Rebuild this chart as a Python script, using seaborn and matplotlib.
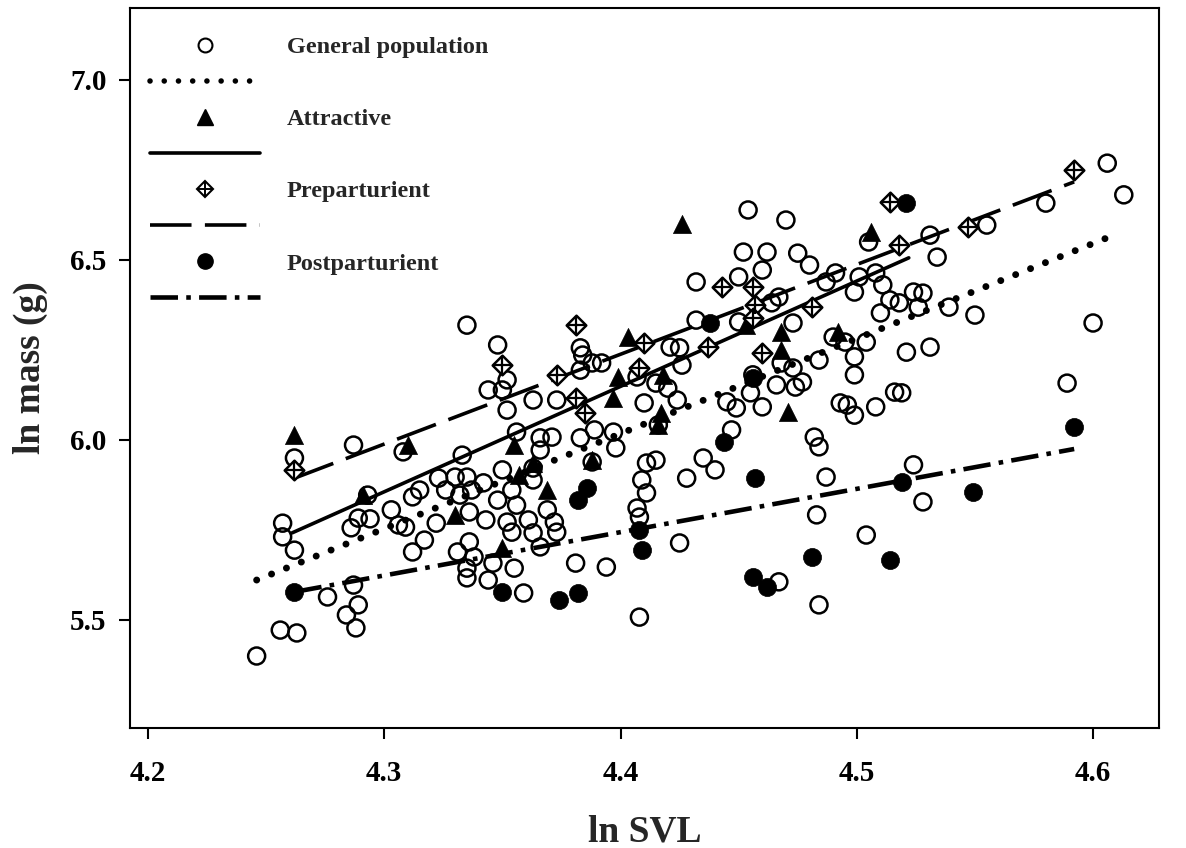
import matplotlib
matplotlib.use("Agg")
import matplotlib.pyplot as plt
import seaborn as sns
from matplotlib.lines import Line2D

# ---------------- data ----------------
gen_x = [4.293, 4.257, 4.257, 4.262, 4.289, 4.294, 4.286, 4.303, 4.312, 4.315,
         4.306, 4.309, 4.317, 4.312, 4.287, 4.276, 4.289, 4.284, 4.288, 4.256,
         4.263, 4.246, 4.262, 4.287, 4.308, 4.335, 4.348, 4.344, 4.350, 4.352,
         4.383, 4.384, 4.383, 4.388, 4.363, 4.373, 4.352, 4.356, 4.366, 4.371,
         4.366, 4.383, 4.389, 4.388, 4.333, 4.323, 4.330, 4.335, 4.342, 4.350,
         4.363, 4.363, 4.326, 4.332, 4.337, 4.348, 4.354, 4.356, 4.336, 4.343,
         4.352, 4.354, 4.322, 4.361, 4.363, 4.372, 4.373, 4.369, 4.336, 4.331,
         4.338, 4.346, 4.355, 4.335, 4.335, 4.344, 4.366, 4.359, 4.381, 4.432,
         4.450, 4.460, 4.452, 4.462, 4.464, 4.467, 4.432, 4.450, 4.421, 4.425,
         4.392, 4.407, 4.426, 4.468, 4.415, 4.420, 4.424, 4.410, 4.445, 4.449,
         4.455, 4.460, 4.456, 4.416, 4.397, 4.398, 4.447, 4.435, 4.440, 4.428,
         4.411, 4.415, 4.409, 4.411, 4.407, 4.408, 4.425, 4.394, 4.467, 4.408,
         4.505, 4.470, 4.531, 4.534, 4.475, 4.480, 4.487, 4.491, 4.501, 4.508,
         4.511, 4.499, 4.514, 4.518, 4.524, 4.528, 4.526, 4.510, 4.539, 4.473,
         4.490, 4.495, 4.504, 4.499, 4.499, 4.484, 4.521, 4.531, 4.473, 4.466,
         4.474, 4.477, 4.516, 4.519, 4.493, 4.496, 4.499, 4.508, 4.482, 4.484,
         4.487, 4.524, 4.528, 4.483, 4.504, 4.484, 4.606, 4.613, 4.580, 4.555,
         4.550, 4.600, 4.589, 4.454]
gen_y = [5.847, 5.769, 5.731, 5.694, 5.783, 5.781, 5.756, 5.806, 5.842, 5.861,
         5.764, 5.758, 5.722, 5.689, 5.597, 5.564, 5.542, 5.514, 5.478, 5.472,
         5.464, 5.400, 5.950, 5.986, 5.967, 6.319, 6.264, 6.139, 6.139, 6.167,
         6.256, 6.236, 6.194, 6.214, 6.111, 6.111, 6.083, 6.022, 6.006, 6.008,
         5.972, 6.006, 6.028, 5.939, 5.958, 5.894, 5.897, 5.897, 5.881, 5.917,
         5.922, 5.889, 5.861, 5.847, 5.861, 5.833, 5.861, 5.819, 5.800, 5.778,
         5.772, 5.744, 5.769, 5.778, 5.742, 5.772, 5.744, 5.806, 5.717, 5.689,
         5.675, 5.658, 5.644, 5.644, 5.617, 5.611, 5.703, 5.575, 5.658, 6.439,
         6.453, 6.472, 6.522, 6.522, 6.381, 6.397, 6.333, 6.328, 6.258, 6.256,
         6.214, 6.175, 6.208, 6.214, 6.158, 6.144, 6.111, 6.103, 6.106, 6.089,
         6.131, 6.092, 6.181, 6.042, 6.022, 5.978, 6.028, 5.950, 5.917, 5.894,
         5.936, 5.944, 5.889, 5.853, 5.811, 5.786, 5.714, 5.647, 5.606, 5.508,
         6.550, 6.611, 6.569, 6.508, 6.519, 6.486, 6.439, 6.464, 6.453, 6.464,
         6.431, 6.411, 6.389, 6.381, 6.411, 6.408, 6.369, 6.353, 6.369, 6.325,
         6.286, 6.272, 6.272, 6.231, 6.181, 6.222, 6.244, 6.258, 6.200, 6.153,
         6.147, 6.161, 6.133, 6.131, 6.103, 6.097, 6.069, 6.092, 6.008, 5.981,
         5.897, 5.931, 5.828, 5.792, 5.736, 5.542, 6.769, 6.681, 6.658, 6.597,
         6.347, 6.325, 6.158, 6.639]

att_x = [4.262, 4.291, 4.310, 4.355, 4.330, 4.363, 4.357, 4.369, 4.350, 4.388,
         4.403, 4.399, 4.418, 4.397, 4.417, 4.416, 4.426, 4.506, 4.468, 4.468,
         4.492, 4.471, 4.453]
att_y = [6.014, 5.847, 5.986, 5.986, 5.792, 5.936, 5.903, 5.861, 5.700, 5.944,
         6.286, 6.175, 6.181, 6.117, 6.075, 6.042, 6.600, 6.578, 6.300, 6.250,
         6.300, 6.078, 6.319]

pre_x = [4.262, 4.381, 4.350, 4.373, 4.381, 4.385, 4.443, 4.456, 4.457, 4.456,
         4.410, 4.437, 4.408, 4.460, 4.514, 4.518, 4.481, 4.592, 4.547]
pre_y = [5.917, 6.319, 6.208, 6.181, 6.117, 6.075, 6.425, 6.425, 6.375, 6.339,
         6.269, 6.258, 6.200, 6.242, 6.661, 6.542, 6.369, 6.750, 6.592]

post_x = [4.262, 4.382, 4.386, 4.350, 4.374, 4.382, 4.438, 4.456, 4.444, 4.457,
          4.408, 4.409, 4.456, 4.462, 4.521, 4.519, 4.481, 4.514, 4.592, 4.549]
post_y = [5.578, 5.833, 5.867, 5.578, 5.556, 5.575, 6.325, 6.172, 5.994, 5.894,
          5.750, 5.694, 5.619, 5.592, 6.658, 5.883, 5.675, 5.667, 6.036, 5.856]

# regression lines (end points)
gen_fit_x = [4.246, 4.611]
gen_fit_y = [5.611, 6.575]
att_fit_x = [4.261, 4.522]
att_fit_y = [5.742, 6.506]
pre_fit_x = [4.262, 4.592]
pre_fit_y = [5.894, 6.717]
post_fit_x = [4.262, 4.592]
post_fit_y = [5.578, 5.975]

labels = ["General population", "Attractive", "Preparturient", "Postparturient"]
x_ticks = [4.2, 4.3, 4.4, 4.5, 4.6]
y_ticks = [5.5, 6.0, 6.5, 7.0]

# ---------------- styling ----------------
sns.set_theme(style="ticks")
plt.rcParams['font.family'] = ['Liberation Serif', 'DejaVu Serif']
plt.rcParams['font.weight'] = 'bold'
plt.rcParams['axes.labelweight'] = 'bold'

W, H = 1186, 848
fig = plt.figure(figsize=(W / 100, H / 100), dpi=100)
ax = fig.add_axes([130 / W, 1 - 728 / H, 1029 / W, 720 / H])

DOT = (0, (0.01, 2.3))
DASH = (0, (11.5, 3.7))
DASHDOT = (0, (6.0, 1.8, 1.0, 1.8))

# lines
sns.lineplot(x=gen_fit_x, y=gen_fit_y, ax=ax, color='black', lw=5.0,
             linestyle=DOT, dash_capstyle='round', zorder=3)
sns.lineplot(x=att_fit_x, y=att_fit_y, ax=ax, color='black', lw=2.6, zorder=3)
sns.lineplot(x=pre_fit_x, y=pre_fit_y, ax=ax, color='black', lw=2.6,
             linestyle=DASH, zorder=3)
sns.lineplot(x=post_fit_x, y=post_fit_y, ax=ax, color='black', lw=3.3,
             linestyle=DASHDOT, zorder=3)

# points
sns.scatterplot(x=gen_x, y=gen_y, ax=ax, marker='o', s=150, facecolor='none',
                edgecolor='black', linewidth=1.8, zorder=2)
sns.scatterplot(x=att_x, y=att_y, ax=ax, marker='^', s=170, color='black',
                edgecolor='black', linewidth=0.5, zorder=4)
sns.scatterplot(x=pre_x, y=pre_y, ax=ax, marker='D', s=100, facecolor='white',
                edgecolor='black', linewidth=1.8, zorder=4)
sns.scatterplot(x=pre_x, y=pre_y, ax=ax, marker='+', s=170, color='black',
                linewidth=1.6, zorder=5)
sns.scatterplot(x=post_x, y=post_y, ax=ax, marker='o', s=170, color='black',
                edgecolor='black', linewidth=0.5, zorder=4)

# axes
ax.set_xlim(4.1924, 4.6279)
ax.set_ylim(5.2, 7.2)
ax.set_xticks(x_ticks)
ax.set_yticks(y_ticks)
ax.set_xticklabels([f"{v:.1f}" for v in x_ticks])
ax.set_yticklabels([f"{v:.1f}" for v in y_ticks])
ax.tick_params(axis='both', direction='out', length=8, width=1.5,
               labelsize=21, colors='black')
ax.tick_params(axis='x', pad=15)
ax.tick_params(axis='y', pad=9)
for sp in ax.spines.values():
    sp.set_visible(True)
    sp.set_linewidth(1.5)
    sp.set_color('black')
ax.set_xlabel("ln SVL", fontsize=27, fontweight='bold', labelpad=20)
ax.set_ylabel("ln mass (g)", fontsize=27, fontweight='bold', labelpad=16)
ax.grid(False)

# legend
h_gen = Line2D([], [], ls='none', marker='o', ms=10, mfc='none', mec='black', mew=1.5)
h_gen_l = Line2D([], [], color='black', lw=4.0, ls=(0, (0.01, 2.55)), dash_capstyle='round')
h_att = Line2D([], [], ls='none', marker='^', ms=11, color='black')
h_att_l = Line2D([], [], color='black', lw=2.6)
h_pre_d = Line2D([], [], ls='none', marker='D', ms=8, mfc='white', mec='black', mew=1.5)
h_pre_p = Line2D([], [], ls='none', marker='+', ms=11, color='black', mew=1.4)
h_pre_l = Line2D([], [], color='black', lw=2.6, ls=DASH)
h_post = Line2D([], [], ls='none', marker='o', ms=11, color='black')
h_post_l = Line2D([], [], color='black', lw=3.3, ls=DASHDOT)

handles = [h_gen, h_gen_l, h_att, h_att_l, (h_pre_d, h_pre_p), h_pre_l, h_post, h_post_l]
leg_labels = [labels[0], " ", labels[1], " ", labels[2], " ", labels[3], " "]
leg = ax.legend(handles, leg_labels, loc='upper left',
                bbox_to_anchor=(150 / W, 1 - 36 / H), bbox_transform=fig.transFigure,
                frameon=False, handlelength=4.53, handletextpad=1.1,
                labelspacing=0.58, borderpad=0, borderaxespad=0,
                prop={'weight': 'bold', 'size': 17.5})

fig.savefig("out.png", dpi=100)
